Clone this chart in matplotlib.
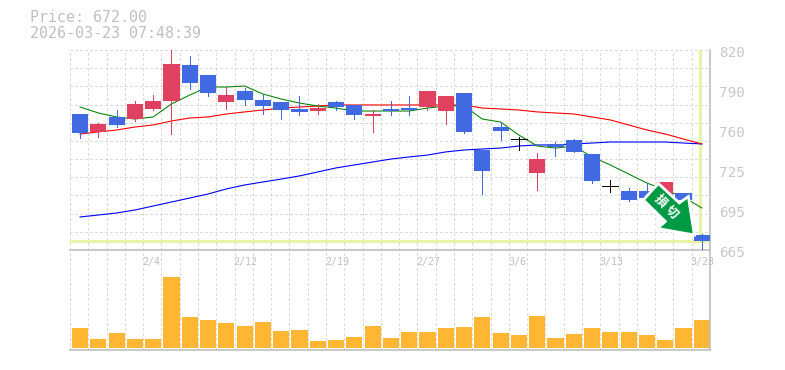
import matplotlib
matplotlib.use("Agg")
import matplotlib.pyplot as plt
from matplotlib.patches import Polygon, Rectangle
from matplotlib.transforms import ScaledTranslation

# candles (blue = down, red = up, black = doji)
opens = [770.4, 756.5, 768.1, 766.5, 774.3, 780.5, 808.4, 800.6, 779.7, 788.2, 781.2, 779.7,
         774.3, 772.7, 779.7, 777.4, 768.9, 774.3, 775.0, 775.8, 772.7, 786.7, 742.5, 760.3,
         751.0, 724.7, 747.2, 750.3, 739.4, 714.6, 710.7, 710.7, 706.1, 709.2, 676.6]
closes = [755.7, 762.7, 761.9, 778.2, 780.5, 809.2, 794.4, 786.7, 785.1, 781.2, 776.6, 773.5,
          772.0, 775.0, 775.8, 769.6, 770.4, 772.7, 773.5, 788.2, 784.4, 756.5, 726.2, 757.2,
          751.0, 735.5, 744.8, 741.0, 718.5, 714.6, 703.8, 705.3, 717.7, 703.8, 672.0]
highs = [770.4, 763.4, 773.5, 780.5, 785.1, 820.0, 815.4, 800.6, 791.3, 790.5, 785.1, 779.7,
         784.4, 778.2, 780.5, 777.4, 773.5, 780.5, 784.4, 788.2, 784.4, 786.7, 743.3, 764.2,
         752.6, 740.2, 748.7, 751.0, 739.4, 719.3, 713.1, 716.9, 717.7, 709.2, 677.4]
lows = [752.0, 752.6, 760.3, 765.0, 773.5, 754.9, 789.8, 784.4, 774.3, 777.4, 770.4, 766.5,
        769.6, 770.4, 773.5, 766.5, 756.5, 769.6, 769.6, 773.5, 762.7, 755.7, 708.4, 750.3,
        742.5, 711.5, 737.9, 741.0, 716.9, 710.0, 703.0, 705.3, 706.1, 703.8, 664.2]
volumes = [20, 9, 15, 9, 9, 71, 31, 28, 25, 22, 26, 17, 18, 7, 8, 11, 22, 10,
           16, 16, 20, 21, 31, 15, 13, 32, 10, 14, 20, 16, 16, 13, 8, 20, 28]

ma_short = [775.8, 771.2, 768.1, 766.5, 768.1, 778.2, 785.1, 791.3, 791.3, 792.1, 785.9, 782.0,
            778.9, 776.6, 775.0, 772.7, 772.7, 772.7, 772.7, 775.0, 776.6, 776.6, 766.5, 764.2,
            754.1, 745.6, 744.0, 745.6, 737.1, 730.9, 723.9, 716.9, 711.5, 706.1, 697.6]
ma_mid = [754.9, 756.5, 758.0, 760.3, 761.9, 765.0, 767.3, 768.1, 770.4, 772.0, 773.5, 775.0,
          775.8, 776.6, 777.4, 777.4, 777.4, 777.4, 777.4, 777.4, 777.4, 777.4, 775.0, 774.3,
          773.5, 772.0, 771.2, 770.4, 768.1, 765.8, 761.9, 758.0, 754.9, 751.0, 747.2]
ma_long = [690.6, 692.1, 693.7, 696.0, 699.1, 702.2, 705.3, 708.4, 712.3, 715.4, 717.7, 720.0,
           722.4, 725.5, 728.6, 730.9, 733.2, 735.5, 737.1, 738.6, 741.0, 742.5, 743.3, 744.0,
           745.6, 746.4, 746.4, 747.2, 747.9, 748.7, 748.7, 748.7, 748.7, 747.9, 747.2]

price_ticks = [820, 789, 758, 727, 696, 665]
price_labels = ["820", "790", "760", "725", "695", "665"]
date_index = [4, 9, 14, 19, 24, 29, 34]
date_labels = ["2/4", "2/12", "2/19", "2/27", "3/6", "3/13", "3/23"]
last_price = 672.00
stamp = "2026-03-23 07:48:39"

W, H = 785, 370
BLUE = "#4169e1"
RED = "#e14161"
GRID = "#dcdcdc"
FRAME = "#bfbfbf"
CROSS = "#e6f4a8"
n = len(opens)

fig = plt.figure(figsize=(W / 100, H / 100), dpi=100)
ax = fig.add_axes([70 / W, 1 - 250 / H, 640 / W, 200 / H])
vol = fig.add_axes([70 / W, 1 - 350 / H, 640 / W, 100 / H])

for a in (ax, vol):
    a.patch.set_visible(False)
    a.set_xlim(-0.5, n - 0.5)
    a.set_xticks([])
    a.set_yticks([])
    for s in a.spines.values():
        s.set_visible(False)
    for side in ("right", "bottom"):
        a.spines[side].set_visible(True)
        a.spines[side].set_color(FRAME)
        a.spines[side].set_linewidth(1.2)
    for i in range(n):
        a.axvline(i - 0.5, color=GRID, lw=0.7, dashes=(3, 3), zorder=0, antialiased=False)

ax.set_ylim(665, 820)
vol.set_ylim(-2, 98)

# horizontal grid, 11 steps over the price range
for k in range(11):
    ax.axhline(820 - k * 155 / 11, color=GRID, lw=0.7, dashes=(3, 3), zorder=0, antialiased=False)

# candles sit a little right of the slot centre
xs = [i + 0.05 for i in range(n)]
ax.plot(xs, ma_long, color="#0000ff", lw=0.8, zorder=2)
ax.plot(xs, ma_mid, color="#ff0000", lw=0.8, zorder=2)
ax.plot(xs, ma_short, color="#007f00", lw=0.75, zorder=2)

# price cross lines
ax.axhline(last_price, color=CROSS, lw=2.2, zorder=1)
ax.plot([xs[-1] - 0.1] * 2, [last_price, 819], color=CROSS, lw=2.2, zorder=1)

for i, x in enumerate(xs):
    o, c = opens[i], closes[i]
    col = "black" if o == c else (RED if c > o else BLUE)
    ax.vlines(x, lows[i], highs[i], color=col, lw=0.7, zorder=3, antialiased=False)
    if o == c:
        ax.hlines(o, x - 0.44, x + 0.44, color=col, lw=0.7, zorder=3, antialiased=False)
    else:
        ax.add_patch(Rectangle((x - 0.44, min(o, c)), 0.88, abs(c - o), fc=col, ec="none",
                               zorder=3, antialiased=False))

vol.bar(xs, volumes, width=0.88, color="#ffb733", zorder=2, antialiased=False)

# green arrow stamp, offsets in pixels from its tip
tip = ax.transData + ScaledTranslation(-0.065, 0.06, fig.dpi_scale_trans)
tx, ty = tip.transform((n - 1, last_price))
arrow_px = [(0, 0), (-37, -6.5), (-29, -13.5), (-51, -35), (-36, -51.5), (-15, -32), (-6, -38.5)]
px = [(tx + dx, ty - dy) for dx, dy in arrow_px]
fig.add_artist(Polygon(px, closed=True, transform=None, fc="#009944", ec="white", lw=2, zorder=6))
for ch, (dx, dy) in zip("損切", [(-34, -33.5), (-23, -22.5)]):
    fig.text((tx + dx) / W, (ty - dy) / H, ch, color="white", fontsize=9, fontweight="bold",
             rotation=-45, ha="center", va="center", family=["Noto Sans CJK JP", "DejaVu Sans"],
             zorder=7)

# text
for p, lab in zip(price_ticks, price_labels):
    ax.annotate(lab, xy=(1, p), xycoords=ax.get_yaxis_transform(), xytext=(6.8, -2.4),
                textcoords="offset points", ha="left", va="center", color="#c8c8c8",
                fontsize=10.4, family="DejaVu Sans Mono", annotation_clip=False)
for i, lab in zip(date_index, date_labels):
    vol.text(i - 0.55, 86, lab, ha="left", va="center", color="#c0c0c0",
             fontsize=7.2, family="DejaVu Sans Mono", clip_on=False)

fig.text(30 / W, 1 - 18 / H, f"Price: {last_price:.2f}", color="#c0c0c0", fontsize=10.8,
         family="DejaVu Sans Mono", va="center")
fig.text(30 / W, 1 - 33 / H, stamp, color="#c0c0c0", fontsize=10.8,
         family="DejaVu Sans Mono", va="center")

fig.savefig("out.png", dpi=100)
